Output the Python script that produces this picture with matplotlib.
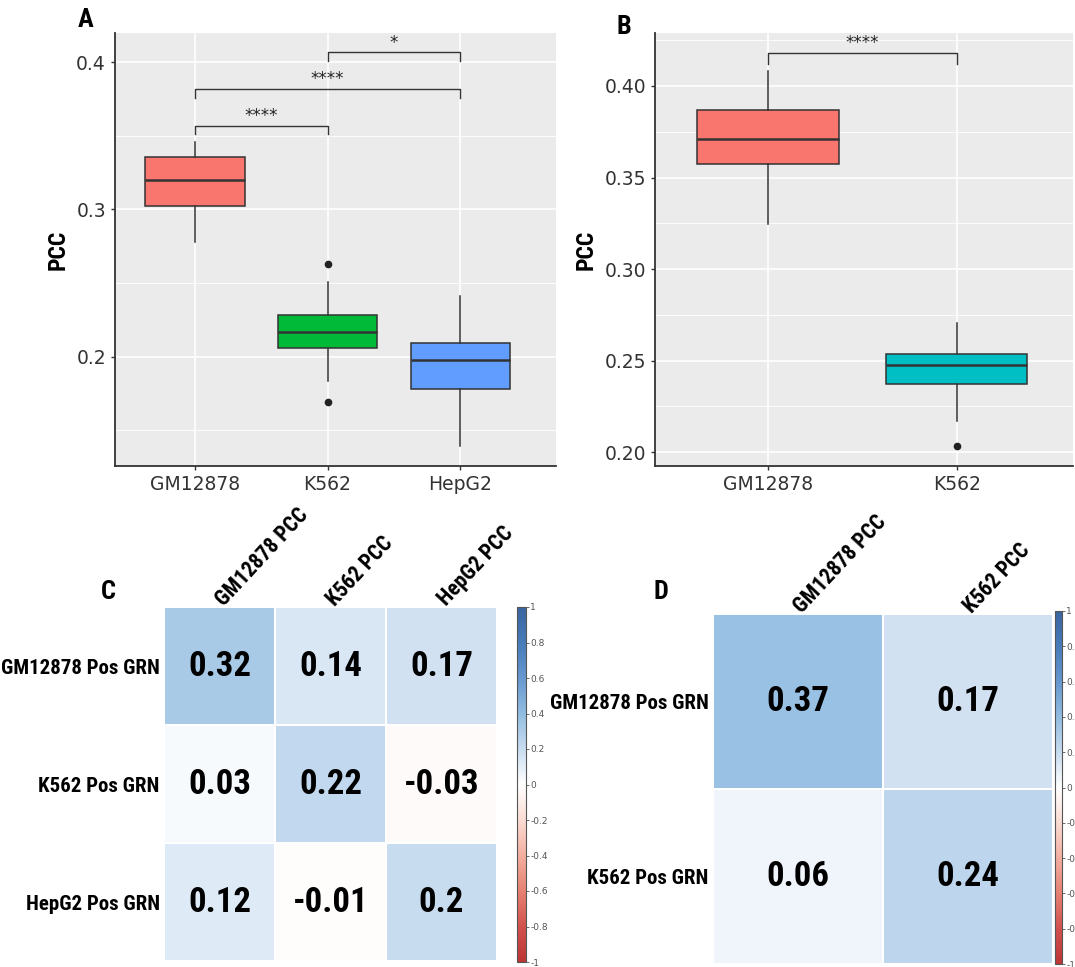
import numpy as np
import matplotlib
matplotlib.use("Agg")
import matplotlib.pyplot as plt
from matplotlib.colors import LinearSegmentedColormap

# --- panel A: PCC per cell line (box statistics)
cells_a = ["GM12878", "K562", "HepG2"]
q1_a = [0.3027, 0.2057, 0.1778]
med_a = [0.3200, 0.2166, 0.1978]
q3_a = [0.3360, 0.2280, 0.2091]
lo_a = [0.2780, 0.1837, 0.1395]
hi_a = [0.3460, 0.2510, 0.2413]
fliers_a = [[], [0.2629, 0.1690], []]
colors_a = ["#F8766D", "#00BA38", "#619CFF"]
# (left group, right group, bracket height, label)
sig_a = [(1, 2, 0.357, "****"), (1, 3, 0.382, "****"), (2, 3, 0.4068, "*")]

# --- panel B
cells_b = ["GM12878", "K562"]
q1_b = [0.3573, 0.2374]
med_b = [0.3711, 0.2474]
q3_b = [0.3869, 0.2538]
lo_b = [0.3245, 0.2171]
hi_b = [0.4082, 0.2706]
fliers_b = [[], [0.2036]]
colors_b = ["#F8766D", "#00BFC4"]
sig_b = [(1, 2, 0.4182, "****")]

# --- panel C / D correlation matrices
rows_c = ["GM12878 Pos GRN", "K562 Pos GRN", "HepG2 Pos GRN"]
cols_c = ["GM12878 PCC", "K562 PCC", "HepG2 PCC"]
corr_c = [[0.32, 0.14, 0.17],
          [0.03, 0.22, -0.03],
          [0.12, -0.01, 0.2]]

rows_d = ["GM12878 Pos GRN", "K562 Pos GRN"]
cols_d = ["GM12878 PCC", "K562 PCC"]
corr_d = [[0.37, 0.17],
          [0.06, 0.24]]

cbar_ticks = [-1, -0.8, -0.6, -0.4, -0.2, 0, 0.2, 0.4, 0.6, 0.8, 1]

W, H = 1075, 967
NARROW = ["DejaVu Sans Condensed", "Roboto Condensed", "Liberation Sans Narrow", "Roboto"]

cmap = LinearSegmentedColormap.from_list("rdbu_soft", [
    (0.0, "#bd3535"), (0.1, "#d2524e"), (0.2, "#e68273"), (0.3, "#f4afa0"),
    (0.4, "#fadcd3"), (0.5, "#ffffff"), (0.6, "#c8dcf0"), (0.7, "#92bde1"),
    (0.8, "#6698cf"), (0.9, "#477cba"), (1.0, "#3a65a0")])

fig = plt.figure(figsize=(W / 100, H / 100), dpi=100)


def px_axes(x0, y0, x1, y1):
    return fig.add_axes([x0 / W, 1 - y1 / H, (x1 - x0) / W, (y1 - y0) / H])


def box_panel(ax, cells, q1, med, q3, lo, hi, fliers, colors, sigs, ylim, xlim, yticks, minor, fmt):
    ax.set_facecolor("#EBEBEB")
    for y in minor:
        ax.axhline(y, color="white", lw=0.6, zorder=0)
    for y in yticks:
        ax.axhline(y, color="white", lw=1.2, zorder=0)
    for x in range(1, len(cells) + 1):
        ax.axvline(x, color="white", lw=1.2, zorder=0)
    stats = [dict(q1=q1[i], med=med[i], q3=q3[i], whislo=lo[i], whishi=hi[i],
                  fliers=fliers[i]) for i in range(len(cells))]
    bp = ax.bxp(stats, positions=range(1, len(cells) + 1), widths=0.75,
                patch_artist=True, showcaps=False,
                boxprops=dict(edgecolor="#333333", linewidth=1.1),
                medianprops=dict(color="#333333", linewidth=1.8),
                whiskerprops=dict(color="#333333", linewidth=1.1),
                flierprops=dict(marker="o", markersize=4.5, markerfacecolor="#222222",
                                markeredgecolor="#222222"))
    for patch, c in zip(bp["boxes"], colors):
        patch.set_facecolor(c)
    for a, b, y, lab in sigs:
        tip = y - 0.006
        ax.plot([a, a, b, b], [tip, y, y, tip], color="#333333", lw=1.0, clip_on=False)
        ax.text((a + b) / 2, y + 0.0005, lab, ha="center", va="bottom", fontsize=12,
                color="#222222")
    ax.set_xlim(*xlim)
    ax.set_ylim(*ylim)
    ax.set_xticks(range(1, len(cells) + 1))
    ax.set_xticklabels(cells, fontsize=13.5, color="#333333")
    ax.set_yticks(yticks)
    ax.set_yticklabels([fmt.format(v) for v in yticks], fontsize=13.5, color="#333333")
    ax.tick_params(length=3, color="#333333", width=1)
    for s in ["top", "right"]:
        ax.spines[s].set_visible(False)
    for s in ["left", "bottom"]:
        ax.spines[s].set_color("#333333")
        ax.spines[s].set_linewidth(1.3)


ax_a = px_axes(115, 33, 556, 466)
box_panel(ax_a, cells_a, q1_a, med_a, q3_a, lo_a, hi_a, fliers_a, colors_a, sig_a,
          (0.1256, 0.420), (0.4, 3.72), [0.2, 0.3, 0.4], [0.15, 0.25, 0.35], "{:.1f}")
ax_a.set_ylabel("PCC", family=NARROW, fontweight="bold", fontsize=17, labelpad=5)

ax_b = px_axes(655, 33, 1073, 466)
box_panel(ax_b, cells_b, q1_b, med_b, q3_b, lo_b, hi_b, fliers_b, colors_b, sig_b,
          (0.1925, 0.4289), (0.4, 2.617), [0.20, 0.25, 0.30, 0.35, 0.40],
          [0.225, 0.275, 0.325, 0.375, 0.425], "{:.2f}")
ax_b.set_ylabel("PCC", family=NARROW, fontweight="bold", fontsize=17, labelpad=5)


def heat_panel(ax, cax, rows, cols, corr, num_size):
    m = np.array(corr)
    mesh = ax.pcolormesh(m, cmap=cmap, vmin=-1, vmax=1, edgecolors="white", linewidth=1.2)
    ax.set_xlim(0, len(cols))
    ax.set_ylim(len(rows), 0)
    for i in range(len(rows)):
        for j in range(len(cols)):
            ax.text(j + 0.5, i + 0.5, f"{m[i, j]:g}", ha="center", va="center",
                    fontsize=num_size, fontweight="bold", family=NARROW, color="black")
    ax.xaxis.tick_top()
    ax.set_xticks(np.arange(len(cols)) + 0.5)
    ax.set_xticklabels(cols, rotation=47, ha="left", va="center", rotation_mode="anchor",
                       fontsize=15.5, fontweight="bold", family=NARROW)
    ax.set_yticks(np.arange(len(rows)) + 0.5)
    ax.set_yticklabels(rows, fontsize=15, fontweight="bold", family=NARROW)
    ax.tick_params(length=0, pad=3)
    for s in ax.spines.values():
        s.set_visible(False)
    cb = fig.colorbar(mesh, cax=cax, ticks=cbar_ticks)
    cb.ax.set_yticklabels([f"{t:g}" for t in cbar_ticks])
    cb.ax.tick_params(labelsize=6.5, labelcolor="#555555", length=2, width=0.6,
                      color="#555555", pad=1)
    cb.outline.set_edgecolor("#555555")
    cb.outline.set_linewidth(0.8)


ax_c = px_axes(164, 607, 497, 961)
cax_c = px_axes(517, 607, 526, 962)
heat_panel(ax_c, cax_c, rows_c, cols_c, corr_c, 25)

ax_d = px_axes(713, 614, 1053, 964)
cax_d = px_axes(1055, 611, 1062, 964)
heat_panel(ax_d, cax_d, rows_d, cols_d, corr_d, 25)

# panel letters
for lab, x, y in [("A", 86, 20), ("B", 624, 27), ("C", 108, 592), ("D", 661, 592)]:
    fig.text(x / W, 1 - y / H, lab, ha="center", va="center", fontsize=19,
             fontweight="bold", family=NARROW)

fig.savefig("out.png", dpi=100)
